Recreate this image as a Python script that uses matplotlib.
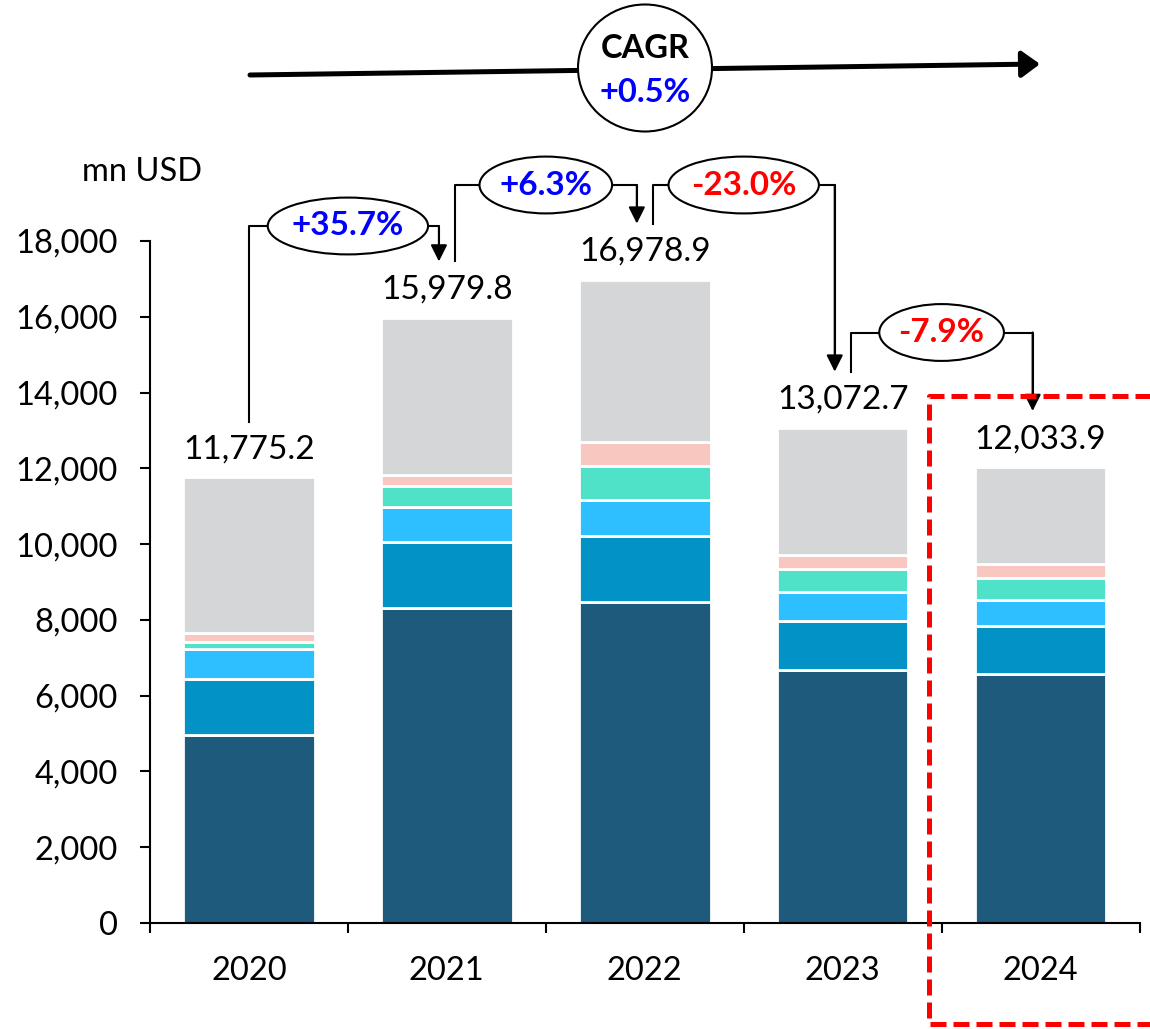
import matplotlib
matplotlib.use("Agg")
import matplotlib.pyplot as plt
from matplotlib.patches import Ellipse, FancyArrowPatch
from matplotlib.lines import Line2D
from matplotlib.ticker import FuncFormatter, MultipleLocator, FixedLocator

plt.rcParams['font.family'] = ['Lato', 'DejaVu Sans']

# ---------------------------------------------------------------
# datos (mn USD)
# ---------------------------------------------------------------
years = ['2020', '2021', '2022', '2023', '2024']
totals = [11775.2, 15979.8, 16978.9, 13072.7, 12033.9]

seg_dark = [4950, 8322, 8485, 6690, 6572]
seg_mid = [1500, 1726, 1724, 1272, 1259]
seg_light = [770, 923, 968, 778, 689]
seg_teal = [185, 550, 877, 597, 585]
seg_pink = [240, 316, 628, 367, 362]

growth = ['+35.7%', '+6.3%', '-23.0%', '-7.9%']
cagr = '+0.5%'

colors = ['#1E5A7C', '#0292C6', '#2DBFFF', '#50E2C9', '#F8C8C0', '#D5D6D8']

W, H = 1150, 1029
fig = plt.figure(figsize=(W / 100, H / 100), dpi=100)
ax = fig.add_axes([150 / W, 1 - 923 / H, 989.5 / W, 682 / H])

# el resto (gris) cierra cada barra hasta el total
seg_gray = [t - (a + b + c + d + e) for t, a, b, c, d, e in
            zip(totals, seg_dark, seg_mid, seg_light, seg_teal, seg_pink)]
stack = [seg_dark, seg_mid, seg_light, seg_teal, seg_pink, seg_gray]

x = list(range(len(years)))
bottom = [0.0] * len(years)
for vals, col in zip(stack, colors):
    ax.bar(x, vals, bottom=bottom, width=0.665, color=col,
           edgecolor='white', linewidth=2.0, zorder=2)
    bottom = [b + v for b, v in zip(bottom, vals)]

# ejes
ax.set_xlim(-0.5, 4.5)
ax.set_ylim(0, 18000)
ax.yaxis.set_major_locator(MultipleLocator(2000))
ax.yaxis.set_major_formatter(FuncFormatter(lambda v, p: f'{v:,.0f}'))
ax.set_xticks(x)
ax.set_xticklabels(years)
ax.xaxis.set_minor_locator(FixedLocator([-0.5, 0.5, 1.5, 2.5, 3.5, 4.5]))
ax.tick_params(axis='x', which='major', length=0, pad=24, labelsize=23.5)
ax.tick_params(axis='x', which='minor', length=7, width=1.5, direction='out')
ax.tick_params(axis='y', length=7, width=1.5, direction='out', pad=16, labelsize=23.5)
for s in ['top', 'right']:
    ax.spines[s].set_visible(False)
for s in ['left', 'bottom']:
    ax.spines[s].set_linewidth(1.5)

# etiquetas de total
for i, t in enumerate(totals):
    ax.text(i, t + 730, f'{t:,.1f}', ha='center', va='center', fontsize=24)

fig.text(82 / W, 1 - 172 / H, 'mn USD', ha='left', va='center', fontsize=23.5)

# ---------------------------------------------------------------
# conectores de crecimiento anual
# ---------------------------------------------------------------
levels = [18396, 19478, 19478, 15585]
ell_w = [0.81, 0.67, 0.76, 0.63]
ell_h = 1500
off = 0.04
lw = 1.5
for i in range(4):
    x0 = i if i == 0 else i + off
    x1 = i + 1 - off
    y0 = totals[i] + (1450 if i == 0 else 1480)
    y1 = totals[i + 1] + 1480
    xm = i + 0.5
    ly = levels[i]
    ax.plot([x0, x0, xm - ell_w[i] / 2], [y0, ly, ly], color='black',
            lw=lw, clip_on=False, zorder=4)
    ax.plot([xm + ell_w[i] / 2, x1, x1], [ly, ly, y1 + 300], color='black',
            lw=lw, clip_on=False, zorder=4)
    arr = FancyArrowPatch((x1, ly), (x1, y1),
                          arrowstyle='-|>,head_length=0.5,head_width=0.25',
                          mutation_scale=20, color='black', lw=lw,
                          shrinkA=0, shrinkB=0, clip_on=False, zorder=6)
    ax.add_patch(arr)
    ax.add_patch(Ellipse((xm, ly), ell_w[i], ell_h, facecolor='white',
                         edgecolor='black', lw=lw, clip_on=False, zorder=5))
    col = 'blue' if growth[i].startswith('+') else 'red'
    ax.text(xm, ly, growth[i], ha='center', va='center', fontsize=24,
            fontweight='bold', color=col, zorder=7, clip_on=False)


def fx(px):
    return px / W


def fy(py):
    return 1 - py / H


# flecha CAGR
cagr_arrow = FancyArrowPatch((fx(250), fy(75)), (fx(1040), fy(64)),
                             transform=fig.transFigure,
                             arrowstyle='-|>,head_length=0.55,head_width=0.4',
                             mutation_scale=20, color='black', lw=3.6,
                             shrinkA=0, shrinkB=0, zorder=3)
fig.patches.append(cagr_arrow)
cagr_ell = Ellipse((fx(645), fy(68)), 134 / W, 127 / H, transform=fig.transFigure,
                   facecolor='white', edgecolor='black', lw=1.5, zorder=4)
fig.patches.append(cagr_ell)
fig.text(fx(645), fy(48), 'CAGR', ha='center', va='center', fontsize=23.5,
         fontweight='bold', color='black', zorder=5)
fig.text(fx(645), fy(92), cagr, ha='center', va='center', fontsize=23.5,
         fontweight='bold', color='blue', zorder=5)

# recuadro rojo discontinuo
box = Line2D([fx(1165), fx(928.5), fx(928.5), fx(1165)],
             [fy(395.7), fy(395.7), fy(1023.5), fy(1023.5)],
             transform=fig.transFigure, color='#FF0000', lw=3.6,
             linestyle=(0, (3.2, 1.4)), solid_joinstyle='round',
             dash_joinstyle='round', zorder=3)
fig.lines.append(box)

fig.savefig('out.png', dpi=100)
